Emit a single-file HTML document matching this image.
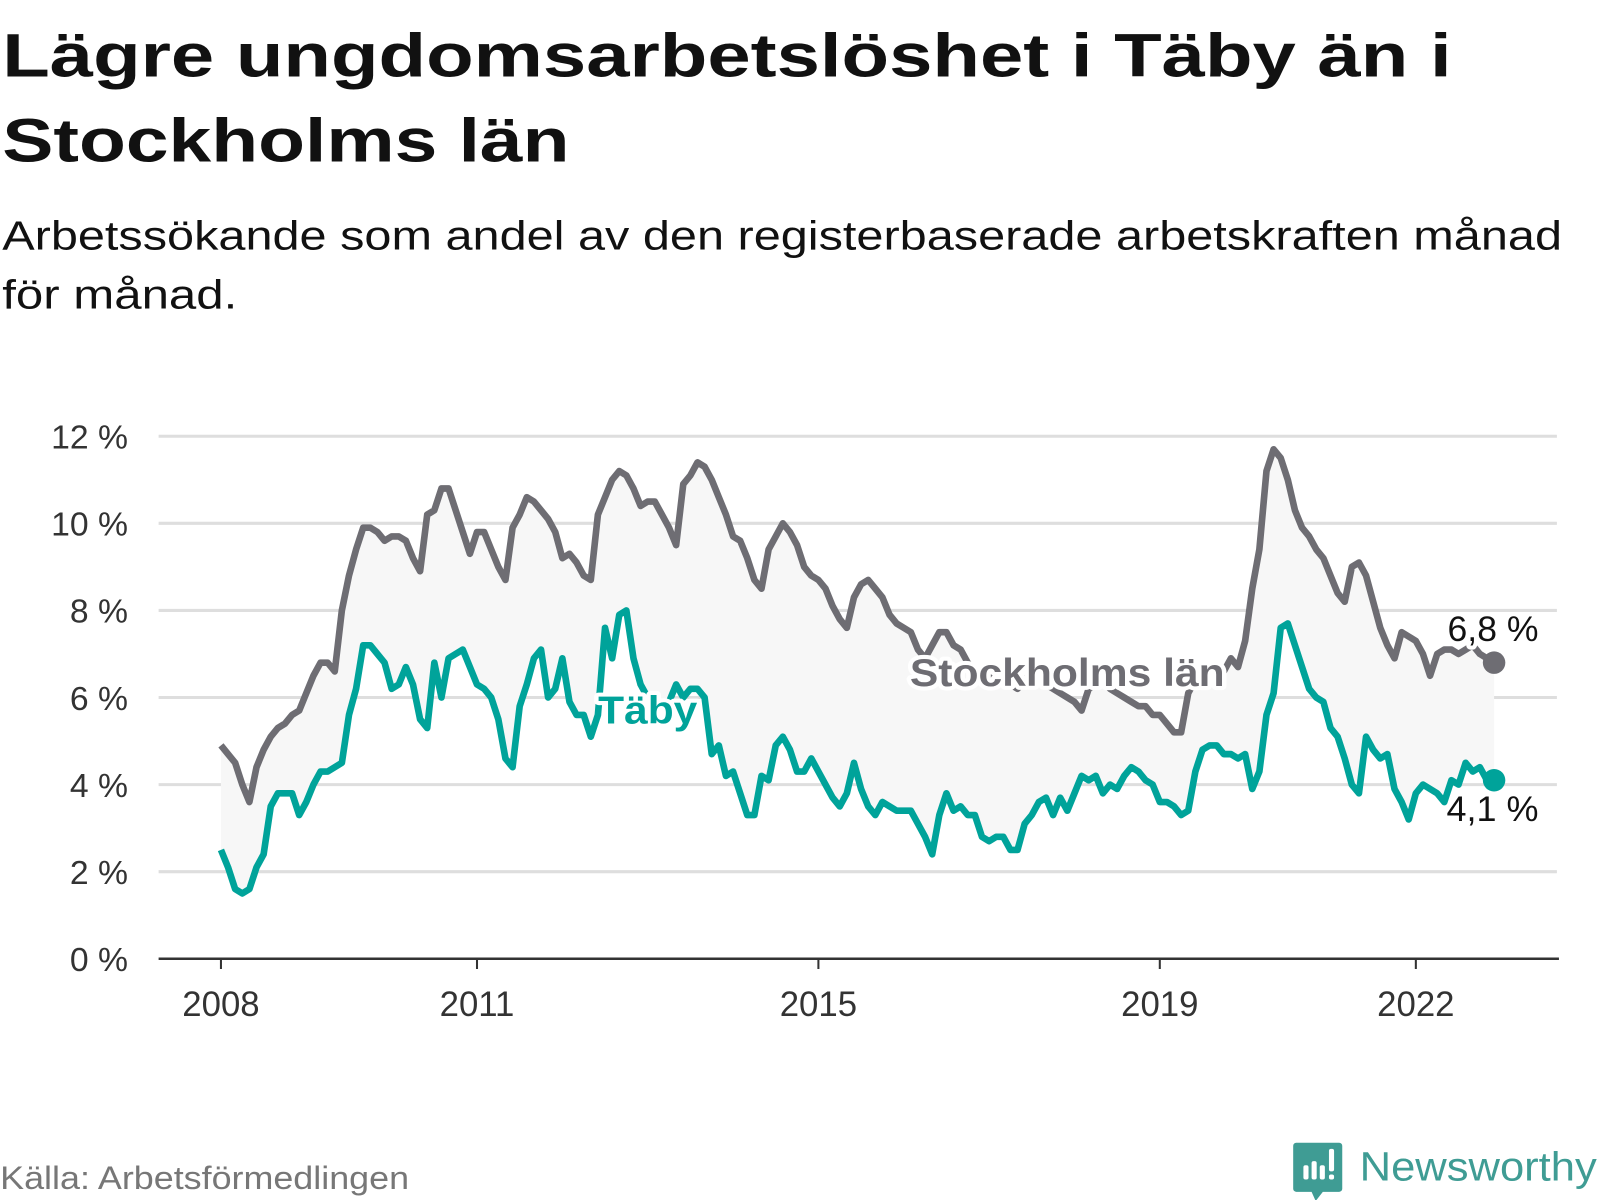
<!DOCTYPE html>
<html><head><meta charset="utf-8"><style>
html,body{margin:0;padding:0;background:#fff;width:1600px;height:1200px;overflow:hidden}
svg{display:block;font-family:"Liberation Sans",sans-serif}
</style></head><body>
<svg id="chart" width="1600" height="1200" viewBox="0 0 1565 1174" xmlns="http://www.w3.org/2000/svg">
<text x="2" y="75" font-size="60" font-weight="bold" fill="#111" textLength="1418" lengthAdjust="spacingAndGlyphs">Lägre ungdomsarbetslöshet i Täby än i</text>
<text x="2" y="158" font-size="60" font-weight="bold" fill="#111" textLength="555" lengthAdjust="spacingAndGlyphs">Stockholms län</text>
<text x="2" y="244" font-size="40" fill="#111" textLength="1526" lengthAdjust="spacingAndGlyphs">Arbetssökande som andel av den registerbaserade arbetskraften månad</text>
<text x="2" y="302" font-size="40" fill="#111" textLength="230" lengthAdjust="spacingAndGlyphs">för månad.</text>
<g id="grid"></g>
<g id="plot"></g>
<g id="labels"></g>
<text x="0" y="1163" font-size="32" fill="#777" textLength="400" lengthAdjust="spacingAndGlyphs">Källa: Arbetsförmedlingen</text>
<g>
<path d="M1268 1118 h42 a3 3 0 0 1 3 3 v42 a3 3 0 0 1 -3 3 h-16 l-7 9 l-4 -9 h-15 a3 3 0 0 1 -3 -3 v-42 a3 3 0 0 1 3 -3z" fill="#3f9c94"/>
<rect x="1275" y="1140" width="5" height="14" rx="2" fill="#fff"/><rect x="1283" y="1136" width="5" height="18" rx="2" fill="#fff"/><rect x="1291" y="1140" width="5" height="14" rx="2" fill="#fff"/><rect x="1300" y="1124" width="5" height="22" rx="2" fill="#fff"/><rect x="1300" y="1149" width="5" height="5" rx="2" fill="#fff"/>
<text x="1330" y="1155" font-size="40" fill="#3f9c94" textLength="232" lengthAdjust="spacingAndGlyphs">Newsworthy</text>
</g>
</svg>
<script>
const yTicks=[0,2,4,6,8,10,12];
const yTickLabels=["0 %","2 %","4 %","6 %","8 %","10 %","12 %"];
const xTicks=[2008,2011,2015,2019,2022];
const stockholm=[4.9,4.7,4.5,4.0,3.6,4.4,4.8,5.1,5.3,5.4,5.6,5.7,
6.1,6.5,6.8,6.8,6.6,8.0,8.8,9.4,9.9,9.9,9.8,9.6,
9.7,9.7,9.6,9.2,8.9,10.2,10.3,10.8,10.8,10.3,9.8,9.3,
9.8,9.8,9.4,9.0,8.7,9.9,10.2,10.6,10.5,10.3,10.1,9.8,
9.2,9.3,9.1,8.8,8.7,10.2,10.6,11.0,11.2,11.1,10.8,10.4,
10.5,10.5,10.2,9.9,9.5,10.9,11.1,11.4,11.3,11.0,10.6,10.2,
9.7,9.6,9.2,8.7,8.5,9.4,9.7,10.0,9.8,9.5,9.0,8.8,
8.7,8.5,8.1,7.8,7.6,8.3,8.6,8.7,8.5,8.3,7.9,7.7,
7.6,7.5,7.1,6.9,7.2,7.5,7.5,7.2,7.1,6.8,6.6,6.5,
6.5,6.4,6.3,6.3,6.2,6.4,6.6,6.5,6.3,6.2,6.1,6.0,
5.9,5.7,6.2,6.3,6.4,6.2,6.1,6.0,5.9,5.8,5.8,5.6,
5.6,5.4,5.2,5.2,6.1,6.4,6.6,6.5,6.7,6.6,6.9,6.7,
7.3,8.5,9.4,11.2,11.7,11.5,11.0,10.3,9.9,9.7,9.4,9.2,
8.8,8.4,8.2,9.0,9.1,8.8,8.2,7.6,7.2,6.9,7.5,7.4,
7.3,7.0,6.5,7.0,7.1,7.1,7.0,7.1,7.2,7.0,6.9,6.8];
const taby=[2.5,2.1,1.6,1.5,1.6,2.1,2.4,3.5,3.8,3.8,3.8,3.3,
3.6,4.0,4.3,4.3,4.4,4.5,5.6,6.2,7.2,7.2,7.0,6.8,
6.2,6.3,6.7,6.3,5.5,5.3,6.8,6.0,6.9,7.0,7.1,6.7,
6.3,6.2,6.0,5.5,4.6,4.4,5.8,6.3,6.9,7.1,6.0,6.2,
6.9,5.9,5.6,5.6,5.1,5.6,7.6,6.9,7.9,8.0,6.9,6.3,
6.0,5.9,5.8,5.9,6.3,6.0,6.2,6.2,6.0,4.7,4.9,4.2,
4.3,3.8,3.3,3.3,4.2,4.1,4.9,5.1,4.8,4.3,4.3,4.6,
4.3,4.0,3.7,3.5,3.8,4.5,3.9,3.5,3.3,3.6,3.5,3.4,
3.4,3.4,3.1,2.8,2.4,3.3,3.8,3.4,3.5,3.3,3.3,2.8,
2.7,2.8,2.8,2.5,2.5,3.1,3.3,3.6,3.7,3.3,3.7,3.4,
3.8,4.2,4.1,4.2,3.8,4.0,3.9,4.2,4.4,4.3,4.1,4.0,
3.6,3.6,3.5,3.3,3.4,4.3,4.8,4.9,4.9,4.7,4.7,4.6,
4.7,3.9,4.3,5.6,6.1,7.6,7.7,7.2,6.7,6.2,6.0,5.9,
5.3,5.1,4.6,4.0,3.8,5.1,4.8,4.6,4.7,3.9,3.6,3.2,
3.8,4.0,3.9,3.8,3.6,4.1,4.0,4.5,4.3,4.4,4.1,4.1];
const NS="http://www.w3.org/2000/svg";
const X0=216,YPX=83.5,Y0=938,VPX=42.6;
const xYear=y=>X0+(y-2008)*YPX;
const xIdx=i=>xYear(2008+i/12);
const yVal=v=>Y0-v*VPX;
function mk(tag,attrs,parent){const e=document.createElementNS(NS,tag);for(const k in attrs)e.setAttribute(k,attrs[k]);parent.appendChild(e);return e;}
const grid=document.getElementById('grid'),plot=document.getElementById('plot'),labels=document.getElementById('labels');
yTicks.forEach((t,i)=>{
 if(t>0){const l=mk('line',{x1:155,x2:1523,y1:yVal(t),y2:yVal(t),stroke:'#dedede','stroke-width':3},grid);
 
 }
 const tx=mk('text',{x:125,y:yVal(t)+12,'text-anchor':'end','font-size':33,fill:'#333'},grid);
 tx.textContent=yTickLabels[i];
 
 
});
const ax=mk('line',{x1:155,x2:1525,y1:Y0,y2:Y0,stroke:'#333','stroke-width':2.5},grid);


xTicks.forEach(t=>{
 const tk=mk('line',{x1:xYear(t),x2:xYear(t),y1:Y0,y2:Y0+10,stroke:'#333','stroke-width':2},grid);
 
 
 const tx=mk('text',{x:xYear(t),y:994,'text-anchor':'middle','font-size':34,fill:'#333'},grid);
 tx.textContent=t;
 
 
});
let d='M'+stockholm.map((v,i)=>xIdx(i)+','+yVal(v)).join('L');
for(let i=taby.length-1;i>=0;i--)d+='L'+xIdx(i)+','+yVal(taby[i]);
const ar=mk('path',{d:d+'Z',fill:'#f7f7f7'},plot);


function line(arr,col,name){
 const p=mk('path',{d:'M'+arr.map((v,i)=>xIdx(i)+','+yVal(v)).join('L'),fill:'none',stroke:col,'stroke-width':6.5,'stroke-linejoin':'round'},plot);
 
 
 const n=arr.length-1;
 const c=mk('circle',{cx:xIdx(n),cy:yVal(arr[n]),r:11,fill:col},plot);
 
 
}
line(stockholm,'#6e6d73','stockholm-line');
line(taby,'#00a39a','taby-line');
function label(txt,x,y,size,col,bold,w,name){
 const a={x:x,y:y,'font-size':size,fill:col,stroke:'#fff','stroke-width':8,'stroke-linejoin':'round','paint-order':'stroke',textLength:w,lengthAdjust:'spacingAndGlyphs'};
 if(bold)a['font-weight']='bold';
 const t=mk('text',a,labels);t.textContent=txt;
 
 
}
label('Stockholms län',890,671,38,'#6e6d73',true,308,'stockholm-label');
label('Täby',585,708,38,'#00a39a',true,97,'taby-label');
label('6,8 %',1416,627,34,'#111',false,89,'stockholm-value-label');
label('4,1 %',1415,803,34,'#111',false,90,'taby-value-label');
</script>
</body></html>
